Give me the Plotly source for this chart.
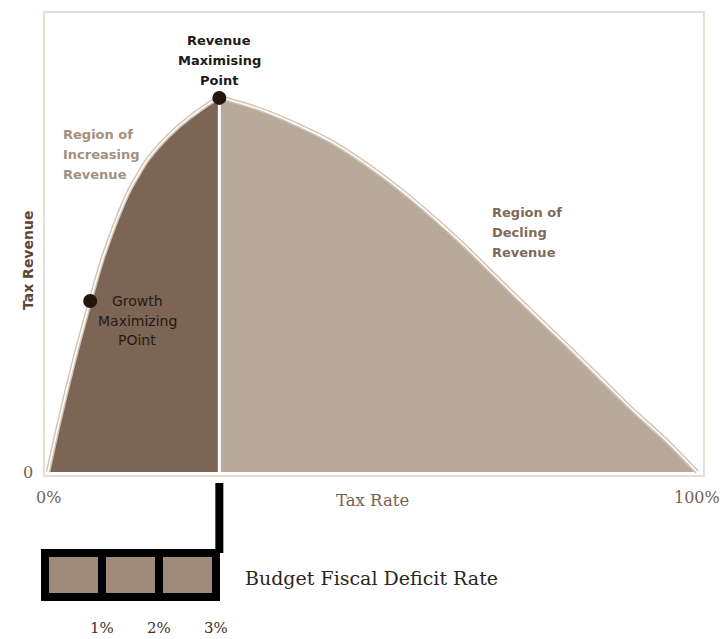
import plotly.graph_objects as go

W, H = 723, 639


def px(x):
    return x / W


def py(y):
    return 1 - y / H


# ---------------- data ----------------
tax_rate = [0, 1.4, 2.9, 4.5, 6.5, 8.5, 10.6, 12.6, 15.3, 18.4, 21.9, 26.4,
            28.5, 33.7, 38.8, 43.9, 49.2, 54.2, 59.3, 64.6, 69.6, 74.7, 80.0,
            85.1, 90.1, 95.4, 100]
tax_revenue = [0, 11.0, 22.0, 33.0, 45.7, 57.5, 67.5, 75.5, 83.4, 89.6, 94.9, 100,
               99.2, 96.3, 92.5, 88.1, 82.1, 75.6, 68.2, 59.8, 51.2, 42.6, 33.8,
               25.1, 16.6, 8.2, 0]
peak_index = 11
peak_rate, peak_revenue = 26.4, 100
growth_rate, growth_revenue = 6.5, 45.7

deficit_rates = [1, 2, 3]
deficit_labels = ["1%", "2%", "3%"]
deficit_cells = [1, 1, 1]

x_tick_vals = [0, 100]
x_tick_text = ["0%", "100%"]
y_tick_text = "0"

# ---------------- colours ----------------
DARK_FILL = "#7c6554"
LIGHT_FILL = "#b9a999"
CELL_FILL = "#9e8a78"
FRAME = "#e6ddd3"
OUTLINE = "#d2c5b8"
DOT = "#22160f"

SPL = dict(shape="spline", smoothing=0.6)

fig = go.Figure()

# left region (increasing revenue)
fig.add_trace(go.Scatter(
    x=tax_rate[:peak_index + 1], y=tax_revenue[:peak_index + 1],
    mode="lines", fill="tozeroy", fillcolor=DARK_FILL,
    line=dict(width=0, color=DARK_FILL, **SPL),
    hoverinfo="skip", showlegend=False))
# right region (declining revenue)
fig.add_trace(go.Scatter(
    x=tax_rate[peak_index:], y=tax_revenue[peak_index:],
    mode="lines", fill="tozeroy", fillcolor=LIGHT_FILL,
    line=dict(width=0, color=LIGHT_FILL, **SPL),
    hoverinfo="skip", showlegend=False))
# curve outline
fig.add_trace(go.Scatter(
    x=tax_rate, y=tax_revenue, mode="lines",
    line=dict(width=4.5, color=OUTLINE, **SPL),
    hoverinfo="skip", showlegend=False))
fig.add_trace(go.Scatter(
    x=tax_rate, y=tax_revenue, mode="lines",
    line=dict(width=1.5, color="white", **SPL),
    hoverinfo="skip", showlegend=False))
# divider at revenue maximising point
fig.add_trace(go.Scatter(
    x=[peak_rate, peak_rate], y=[0, peak_revenue], mode="lines",
    line=dict(width=3, color="white"), hoverinfo="skip", showlegend=False))
# key points
fig.add_trace(go.Scatter(
    x=[growth_rate, peak_rate], y=[growth_revenue, peak_revenue], mode="markers",
    marker=dict(size=14, color=DOT), hoverinfo="skip", showlegend=False))

# budget fiscal deficit cells
fig.add_trace(go.Bar(
    x=[r - 0.5 for r in deficit_rates], y=deficit_cells, width=1,
    marker=dict(color=CELL_FILL, line=dict(color="black", width=8)),
    xaxis="x2", yaxis="y2", hoverinfo="skip", showlegend=False))

fig.update_layout(
    width=W, height=H,
    margin=dict(l=0, r=0, t=0, b=0),
    paper_bgcolor="white", plot_bgcolor="white",
    showlegend=False,
    xaxis=dict(domain=[px(45), px(703)], range=[-0.462, 100.92],
               showline=True, mirror=True, linecolor=FRAME, linewidth=2,
               showgrid=False, zeroline=False, showticklabels=False, ticks=""),
    yaxis=dict(domain=[py(475), py(13)], range=[-0.80, 122.7],
               showline=True, mirror=True, linecolor=FRAME, linewidth=2,
               showgrid=False, zeroline=False, showticklabels=False, ticks=""),
    xaxis2=dict(domain=[px(41), px(220)], range=[-0.0702, 3.0702],
                visible=False, anchor="y2"),
    yaxis2=dict(domain=[py(601), py(549)], range=[-0.0909, 1.0909],
                visible=False, anchor="x2"),
)

# stem from the revenue maximising point down to the deficit box
fig.add_shape(type="line", xref="x", yref="paper",
              x0=peak_rate, x1=peak_rate, y0=py(483), y1=py(553),
              line=dict(color="black", width=8))

SANS = "DejaVu Sans, sans-serif"
SERIF = "DejaVu Serif, serif"


def add_lines(lines, x, y0, dy, xref, anchor, font, bold=False):
    for i, t in enumerate(lines):
        txt = f"<b>{t}</b>" if bold else t
        fig.add_annotation(x=x, y=py(y0 + i * dy), xref=xref, yref="paper",
                           text=txt, showarrow=False, xanchor=anchor,
                           yanchor="middle", font=font)


add_lines(["Revenue", "Maximising", "Point"], peak_rate, 40, 20, "x", "center",
          dict(family=SANS, size=13, color="#1e1a17"), bold=True)
add_lines(["Region of", "Increasing", "Revenue"], px(61), 135, 20, "paper", "left",
          dict(family=SANS, size=13, color="#a39080"), bold=True)
add_lines(["Region of", "Decling", "Revenue"], px(490), 213, 20, "paper", "left",
          dict(family=SANS, size=13, color="#7e6a5a"), bold=True)
add_lines(["Growth", "Maximizing", "POint"], px(137), 301, 19.5, "paper", "center",
          dict(family=SANS, size=14, color="#241a14"))

fig.add_annotation(x=px(18), y=py(261), xref="paper", yref="paper",
                   text="<b>Tax Revenue</b>", textangle=-90, showarrow=False,
                   font=dict(family=SANS, size=14, color="#5b4737"))

axis_font = dict(family=SERIF, size=16, color="#77624f")
fig.add_annotation(x=50, y=py(500), xref="x", yref="paper", text="Tax Rate",
                   showarrow=False, xanchor="center", yanchor="middle",
                   font=dict(family=SERIF, size=16.5, color="#77624f"))
for v, t in zip(x_tick_vals, x_tick_text):
    fig.add_annotation(x=v, y=py(497), xref="x", yref="paper", text=t,
                       showarrow=False, xanchor="center", yanchor="middle",
                       font=axis_font)
fig.add_annotation(x=px(28), y=0, xref="paper", yref="y", text=y_tick_text,
                   showarrow=False, xanchor="center", yanchor="middle",
                   font=axis_font)

fig.add_annotation(x=px(243), y=py(578), xref="paper", yref="paper",
                   text="Budget Fiscal Deficit Rate", showarrow=False,
                   xanchor="left", yanchor="middle",
                   font=dict(family=SERIF, size=19, color="#2a2522"))
for r, t in zip(deficit_rates, deficit_labels):
    fig.add_annotation(x=r, y=py(628), xref="x2", yref="paper", text=t,
                       showarrow=False, xanchor="center", yanchor="middle",
                       font=dict(family=SERIF, size=15, color="#3b302a"))

fig.write_html(
    "out.html",
    config={"displayModeBar": False},
    post_script="document.body.style.margin='0';document.body.style.overflow='hidden';",
)
